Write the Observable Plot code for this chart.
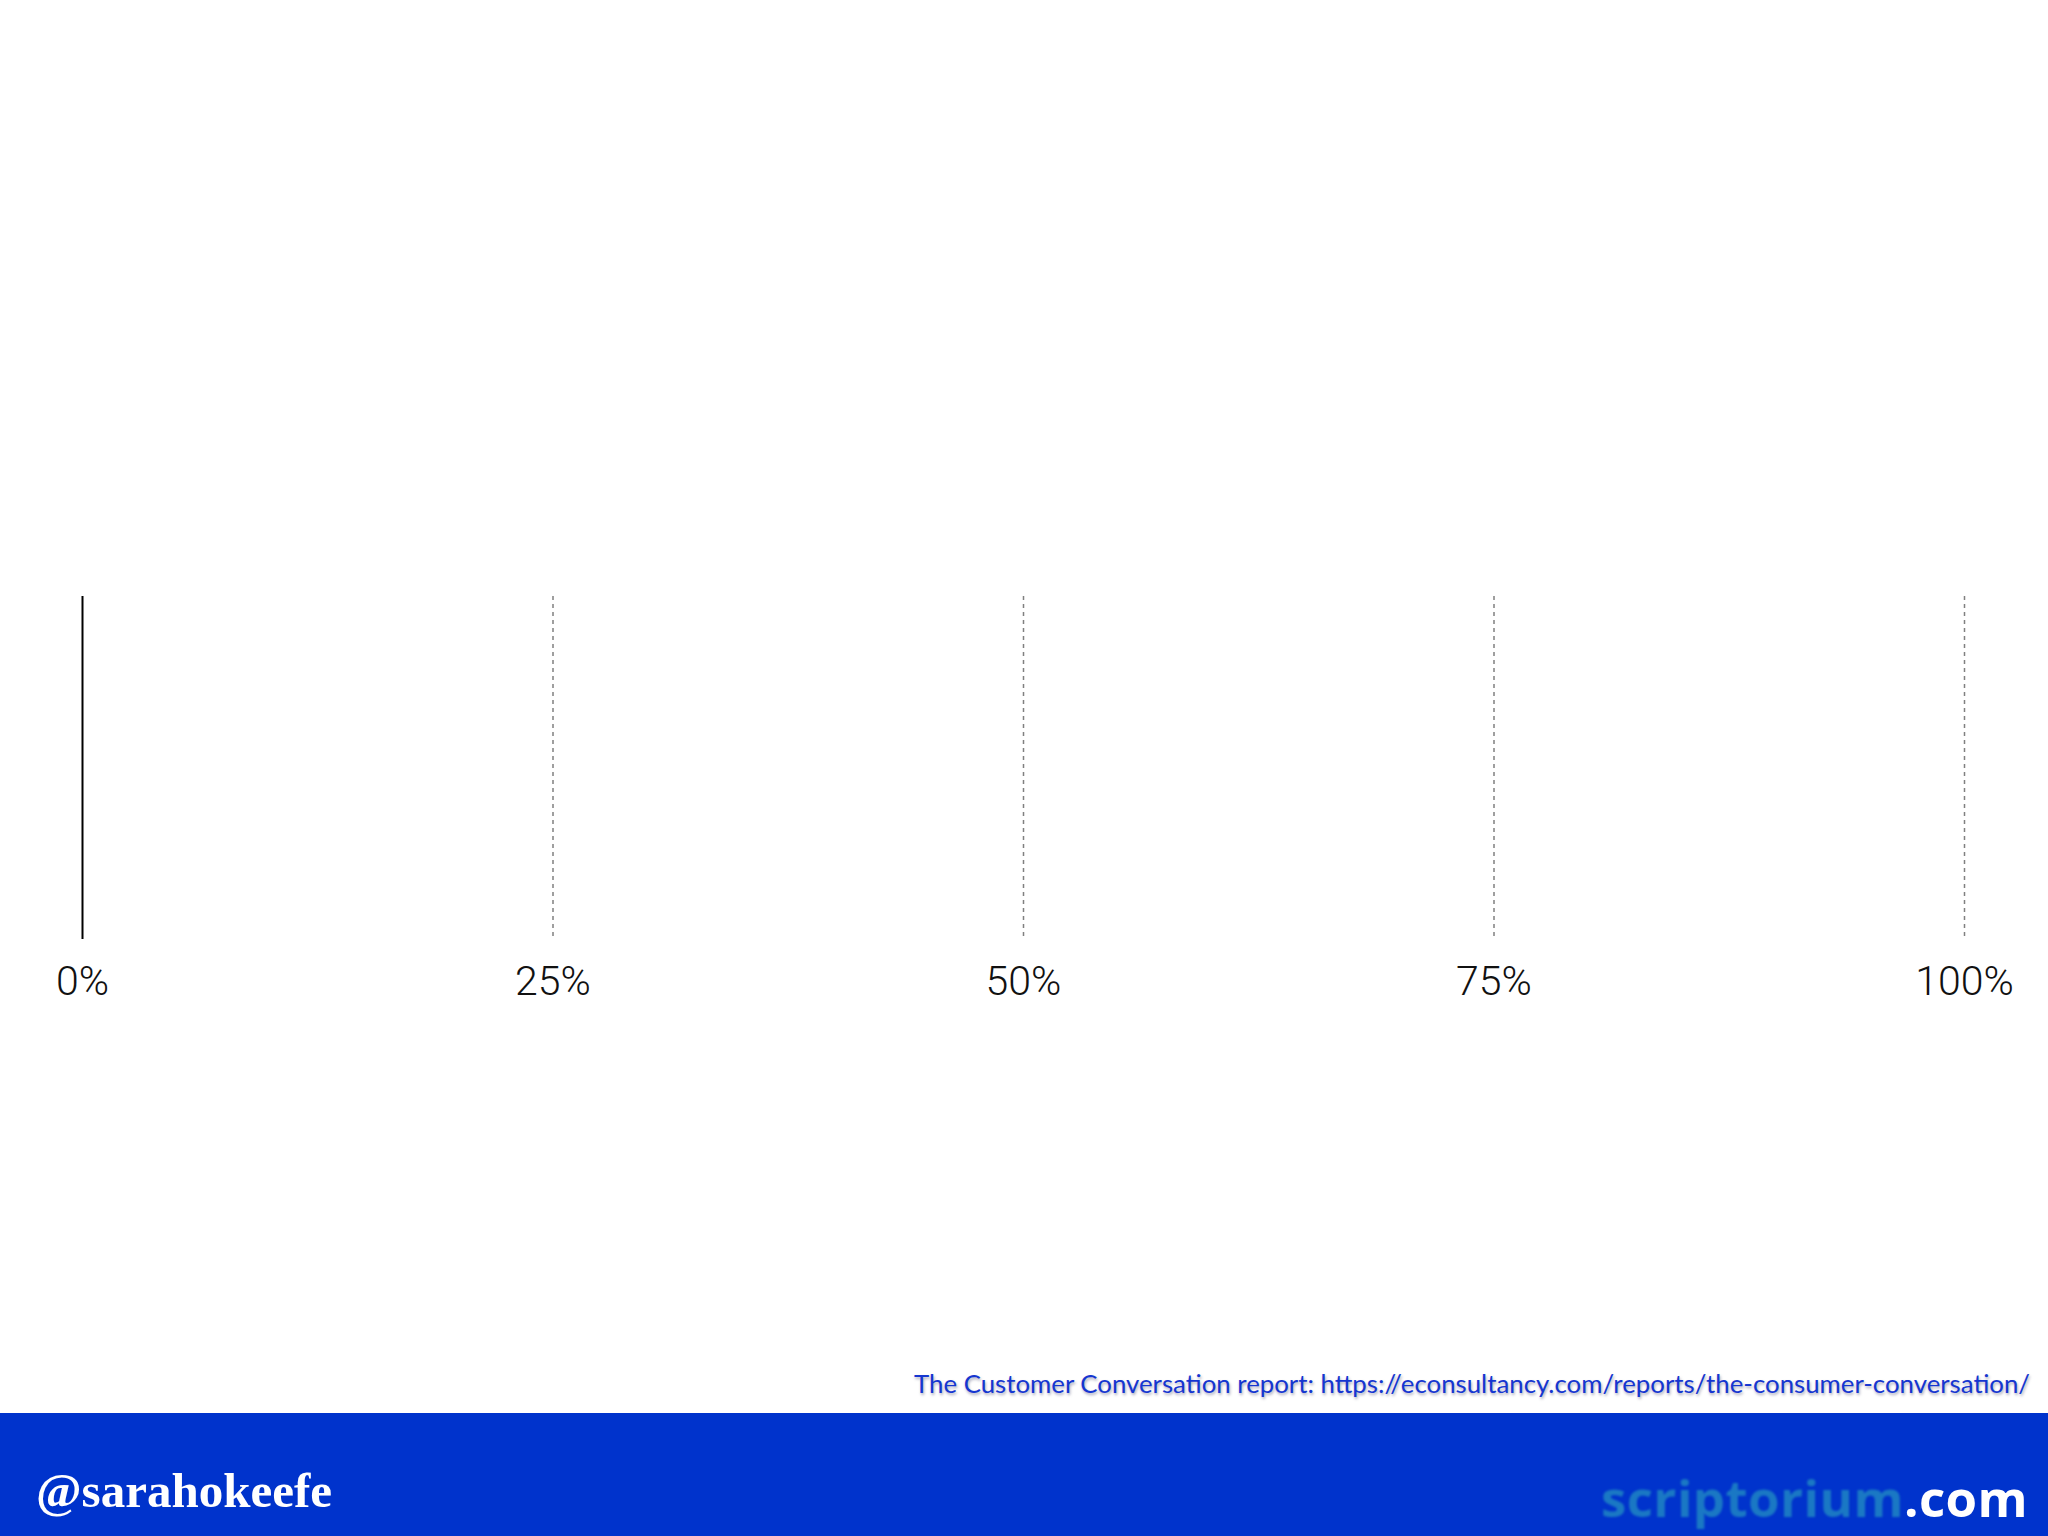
<!DOCTYPE html>
<html>
<head>
<meta charset="utf-8">
<script src="https://cdn.jsdelivr.net/npm/d3@7"></script>
<script src="https://cdn.jsdelivr.net/npm/@observablehq/plot@0.6"></script>
<style>
  html, body { margin: 0; padding: 0; background: #fff; }
  #page { position: relative; width: 2048px; height: 1536px; overflow: hidden; background: #fff; }
  #chart { position: absolute; left: 0; top: 580px; }
  #caption { position: absolute; right: 18px; top: 1368px; font-family: Lato, "Open Sans", sans-serif; font-size: 25.8px; color: #1536d0; text-shadow: 1px 2px 3px rgba(0,0,60,0.35); white-space: nowrap; }
  #footer { position: absolute; left: 0; top: 1413px; width: 2048px; height: 123px; background: #0033cc; }
  #handle { position: absolute; left: 36px; top: 1462px; font-family: "Liberation Serif", serif; font-weight: bold; font-size: 49px; color: #fff; white-space: nowrap; }
  #brand { position: absolute; right: 20px; top: 1462px; font-family: "Open Sans", sans-serif; font-weight: 700; font-size: 51px; white-space: nowrap; letter-spacing: 0.4px; }
  #brand .s { color: #1a78c4; filter: blur(0.8px); }
  #brand .c { color: #fff; }
</style>
</head>
<body>
<div id="page">
  <div id="chart"></div>
  <div id="caption">The Customer Conversation report: https://econsultancy.com/reports/the-consumer-conversation/</div>
  <div id="footer"></div>
  <div id="handle">@sarahokeefe</div>
  <div id="brand"><span class="s">scriptorium</span><span class="c">.com</span></div>
</div>
<script>
const ticks = [0, 0.25, 0.5, 0.75, 1];
const tickLabels = ["0%", "25%", "50%", "75%", "100%"];
const gridTicks = ticks.filter(d => d > 0);
const baseTick = [ticks[0]];

const chart = Plot.plot({
  width: 2048,
  height: 460,
  marginLeft: 82,
  marginRight: 84,
  marginTop: 16,
  marginBottom: 101,
  x: { domain: [0, 1], ticks: ticks, label: null },
  style: { fontFamily: "Roboto, 'Liberation Sans', sans-serif", fontSize: "41px", fontWeight: 300, color: "#111", background: "transparent", overflow: "visible" },
  marks: [
    Plot.ruleX(gridTicks, { stroke: "#808080", strokeWidth: 1.5, strokeDasharray: "4,4" }),
    Plot.ruleX(baseTick, { stroke: "#000", strokeWidth: 2 }),
    Plot.axisX({ ticks: ticks, tickSize: 0, tickPadding: 26, label: null,
      tickFormat: d => tickLabels[ticks.indexOf(d)], fill: "#111" })
  ]
});
document.getElementById("chart").appendChild(chart);
</script>
</body>
</html>
